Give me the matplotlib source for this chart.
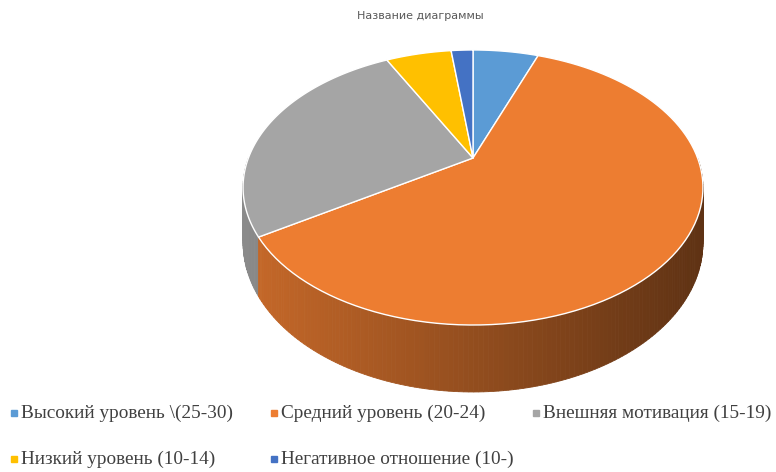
import numpy as np
from matplotlib import pyplot as plt
from matplotlib.patches import Polygon
from matplotlib.colors import to_rgb

# данные диаграммы
labels = ['Высокий уровень \\(25-30)', 'Средний уровень (20-24)',
          'Внешняя мотивация (15-19)', 'Низкий уровень (10-14)',
          'Негативное отношение (10-)']
values = [3, 32, 14, 3, 1]
colors = ['#5B9BD5', '#ED7D31', '#A5A5A5', '#FFC000', '#4472C4']
title = 'Название диаграммы'

# геометрия псевдо-3D (перспектива)
cx, cy = 473, 158
a0 = 224.6
r = 0.2145
p = -97.3
t = 52.6


def proj(theta, depth=0.0):
    '''theta в градусах по часовой от 12 часов'''
    th = np.radians(theta)
    X = np.sin(th)
    Y = np.cos(th)
    w = r * Y + 1
    xs = cx + a0 * X / w
    ys = (p * Y + cy) / w + depth * t / w
    return xs, ys


def shade(col, x, k_left=0.84, k_right=0.40):
    f = k_left + (k_right - k_left) * (x - 243) / (703 - 243)
    return tuple(np.clip(np.array(to_rgb(col)) * f, 0, 1))


fig = plt.figure(figsize=(7.76, 4.72), dpi=100)
ax = fig.add_axes([0, 0, 1, 1])
ax.set_xlim(0, 776)
ax.set_ylim(472, 0)
ax.axis('off')

angles = np.concatenate([[0], np.cumsum(values) / np.sum(values) * 360])

# боковая стенка
strips = []
for i in range(len(values)):
    a1, a2 = max(angles[i], 90), min(angles[i + 1], 270)
    if a2 <= a1:
        continue
    edges = np.linspace(a1, a2, int(np.ceil(a2 - a1)) + 1)
    for e1, e2 in zip(edges[:-1], edges[1:]):
        strips.append((np.cos(np.radians((e1 + e2) / 2)), e1, e2, colors[i]))
strips.sort(key=lambda s: -s[0])
for _, e1, e2, col in strips:
    x1, y1 = proj(e1)
    x2, y2 = proj(e2)
    _, y1b = proj(e1, 1)
    _, y2b = proj(e2, 1)
    c = shade(col, (x1 + x2) / 2)
    ax.add_patch(Polygon([(x1, y1), (x2, y2), (x2, y2b), (x1, y1b)],
                         closed=True, facecolor=c, edgecolor=c, lw=0.6))

# верхняя грань
for i in range(len(values)):
    th = np.linspace(angles[i], angles[i + 1], 100)
    xs, ys = proj(th)
    pts = [(cx, cy)] + list(zip(xs, ys))
    ax.add_patch(Polygon(pts, closed=True, facecolor=colors[i],
                         edgecolor='white', lw=1.0, joinstyle='round'))

fig.text(420 / 776, 1 - 16 / 472, title, fontsize=8, color='#595959',
         ha='center', va='center')

# легенда
mk_x = [14, 274, 536, 14, 274]
mk_y = [413, 413, 413, 459, 459]
for lab, col, mx, my in zip(labels, colors, mk_x, mk_y):
    ax.plot(mx, my, marker='s', ms=4.5, color=col, mec=col)
    ax.text(mx + 7, my, lab, fontsize=13.9, family='Liberation Serif',
            color='#404040', ha='left', va='center')

fig.savefig('out.png', dpi=100)
